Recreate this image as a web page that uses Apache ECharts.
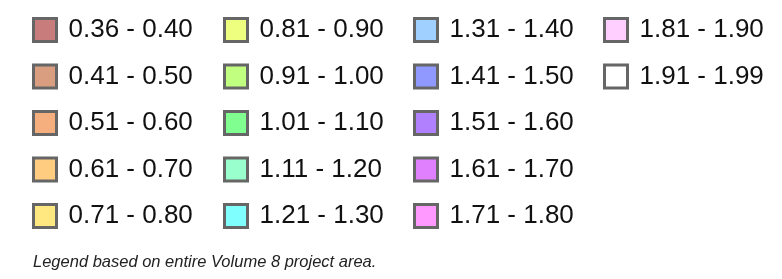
<!DOCTYPE html>
<html>
<head>
<meta charset="utf-8">
<script src="https://cdn.jsdelivr.net/npm/echarts@6/dist/echarts.min.js"></script>
<style>
html,body{margin:0;padding:0;background:#fff;}
#chart{width:782px;height:279px;}
</style>
</head>
<body>
<div id="chart"></div>
<script>
const ranges = ["0.36 - 0.40","0.41 - 0.50","0.51 - 0.60","0.61 - 0.70","0.71 - 0.80",
  "0.81 - 0.90","0.91 - 1.00","1.01 - 1.10","1.11 - 1.20","1.21 - 1.30",
  "1.31 - 1.40","1.41 - 1.50","1.51 - 1.60","1.61 - 1.70","1.71 - 1.80",
  "1.81 - 1.90","1.91 - 1.99"];
const fills = ["#C87C7C","#D99E80","#F5AE7E","#FFCC80","#FFE880",
  "#EEFF80","#C0FF80","#80FF90","#99FFCC","#80FFFF",
  "#A0D0FF","#9099FF","#B080FF","#E080FF","#FF99FF",
  "#FFD0FF","#FFFFFF"];
const columnSizes = [5,5,5,2];
const caption = "Legend based on entire Volume 8 project area.";

const colLeft = [32, 223, 413, 603];
const chart = echarts.init(document.getElementById('chart'));
const series = ranges.map((r,i)=>({
  name: r, type: 'scatter', data: [], itemStyle: {color: fills[i], opacity: 1}
}));
const legends = [];
let start = 0;
columnSizes.forEach((n,c)=>{
  legends.push({
    orient: 'vertical', left: colLeft[c], top: 17, padding: 0,
    itemWidth: 23, itemHeight: 23, itemGap: 20.5, selectedMode: false,
    icon: 'rect',
    itemStyle: {borderColor: '#666', borderWidth: 3, opacity: 1},
    textStyle: {fontFamily: 'Liberation Sans, Arial, sans-serif', fontSize: 26, color: '#111', padding: [0,0,0,7]},
    data: ranges.slice(start, start+n)
  });
  start += n;
});
chart.setOption({
  animation: false,
  title: {text: caption, left: 33, top: 254, padding: 0,
    textStyle: {fontFamily: 'Liberation Sans, Arial, sans-serif', fontSize: 16.5, fontStyle: 'italic', fontWeight: 'normal', color: '#222'}},
  xAxis: {show: false}, yAxis: {show: false},
  grid: {left: 0, right: 0, top: 0, bottom: 0, show: false},
  legend: legends,
  series: series
});
</script>
</body>
</html>
